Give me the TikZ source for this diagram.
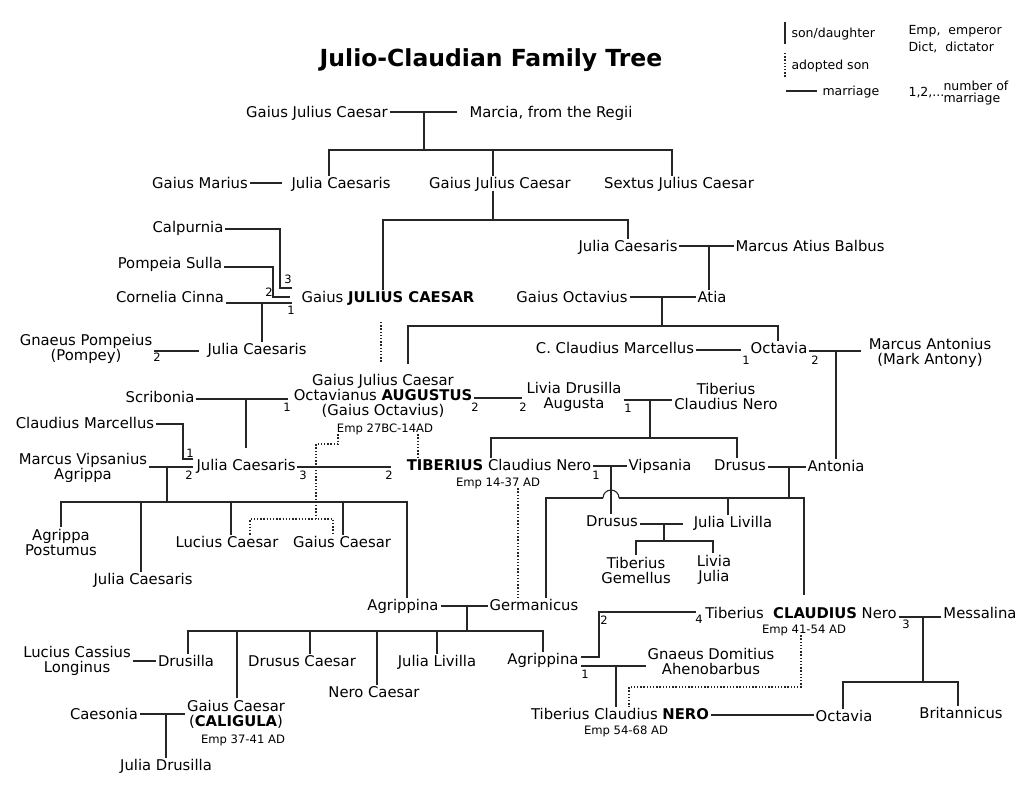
\documentclass[tikz,border=0pt]{standalone}
\usepackage{fontspec}
\setmainfont{DejaVu Sans}
\tikzset{
	pers/.style={inner sep=0pt, outer sep=2pt, text=black, text height=11pt, text depth=0pt, font=\fontsize{14.8}{15}\selectfont},
	pers2/.style={inner sep=0pt, outer sep=2pt, text=black, align=center, font=\fontsize{14.8}{15}\selectfont},
	emp/.style={inner sep=0pt, outer sep=2pt, text=black, text height=8.5pt, text depth=0pt, font=\fontsize{11.6}{13}\selectfont},
	num/.style={inner sep=0pt, text=black, text height=8.4pt, text depth=0pt, font=\fontsize{11.5}{13}\selectfont},
	leg/.style={inner sep=0pt, anchor=west, text=black, text height=9pt, text depth=0pt, font=\fontsize{12.5}{12}\selectfont},
	adopt/.style={line width=1.2pt, dash pattern=on 1.4pt off 1.8pt}
}
\begin{document}
\begin{tikzpicture}[x=1pt, y=-1pt, line width=1.1pt, color=black!85]
			%%%%% START %%%%%
			\useasboundingbox (0,0) rectangle (1024,803);
			
			\node[inner sep=0pt, text=black, text height=17pt, text depth=0pt, font=\bfseries\fontsize{23.5}{26}\selectfont] (title) at (491,58) {Julio-Claudian Family Tree};
			
			%% legend
			\draw (785,22) -- (785,44);
			\node[leg] (lson) at (791,33) {son/daughter};
			\draw[adopt] (785,53) -- (785,78);
			\node[leg] (ladopt) at (791,65) {adopted son};
			\draw (786,91) -- (817,91);
			\node[leg] (lmarr) at (822,91) {marriage};
			\node[leg] (lemp) at (908,30) {Emp,\ \ emperor};
			\node[leg] (ldict) at (908,47) {Dict,\ \ dictator};
			\node[leg] (lnum) at (908,92) {1,2,...};
			\node[leg, text height=, text depth=, align=left] (lnumtxt) at (943,93) {number of\\marriage};
			
			%% persons
			\node[pers] (gjcA) at (317,112) {Gaius Julius Caesar};
			\node[pers] (marcia) at (551,112) {Marcia, from the Regii};
			\node[pers] (marius) at (200,183) {Gaius Marius};
			\node[pers] (juliaA) at (341,183) {Julia Caesaris};
			\node[pers] (gjcB) at (500,183) {Gaius Julius Caesar};
			\node[pers] (sextus) at (679,183) {Sextus Julius Caesar};
			\node[pers] (calpurnia) at (188,227) {Calpurnia};
			\node[pers] (juliaB) at (628,246) {Julia Caesaris};
			\node[pers] (balbus) at (810,246) {Marcus Atius Balbus};
			\node[pers] (pompeia) at (170,263) {Pompeia Sulla};
			\node[pers] (cornelia) at (170,297) {Cornelia Cinna};
			\node[pers] (caesar) at (388,297) {Gaius \textbf{JULIUS CAESAR}};
			\node[pers] (octavius) at (572,297) {Gaius Octavius};
			\node[pers] (atia) at (712,297) {Atia};
			\node[pers2] (pompey) at (86,349) {Gnaeus Pompeius\\(Pompey)};
			\node[pers] (juliaC) at (257,349) {Julia Caesaris};
			\node[pers] (marcellusC) at (615,348) {C. Claudius Marcellus};
			\node[pers] (octavia) at (779,348) {Octavia};
			\node[pers2] (antonius) at (930,353) {Marcus Antonius\\(Mark Antony)};
			\node[pers2] (augustus) at (383,396) {Gaius Julius Caesar\\Octavianus \textbf{AUGUSTUS}\\(Gaius Octavius)};
			\node[emp] (empA) at (385,428) {Emp 27BC-14AD};
			\node[pers] (scribonia) at (160,397) {Scribonia};
			\node[pers2] (livia) at (574,397) {Livia Drusilla\\Augusta};
			\node[pers2] (tiberiusN) at (726,396) {Tiberius\\Claudius Nero};
			\node[pers] (marcellus) at (85,423) {Claudius Marcellus};
			\node[pers2] (agrippa) at (83,468) {Marcus Vipsanius\\Agrippa};
			\node[pers] (juliaD) at (246,465) {Julia Caesaris};
			\node[pers] (tiberius) at (499,465) {\textbf{TIBERIUS} Claudius Nero};
			\node[emp] (empB) at (498,482) {Emp 14-37 AD};
			\node[pers] (vipsania) at (660,465) {Vipsania};
			\node[pers] (drususA) at (740,465) {Drusus};
			\node[pers] (antonia) at (836,466) {Antonia};
			\node[pers2] (postumus) at (61,542) {Agrippa\\Postumus};
			\node[pers] (lucius) at (227,542) {Lucius Caesar};
			\node[pers] (gaius) at (342,542) {Gaius Caesar};
			\node[pers] (juliaE) at (143,579) {Julia Caesaris};
			\node[pers] (drususB) at (612,521) {Drusus};
			\node[pers] (livilla) at (733,522) {Julia Livilla};
			\node[pers2] (gemellus) at (636,570) {Tiberius\\Gemellus};
			\node[pers2] (liviaJ) at (714,570) {Livia\\Julia};
			\node[pers] (agrippinaA) at (403,605) {Agrippina};
			\node[pers] (germanicus) at (534,605) {Germanicus};
			\node[pers] (claudius) at (801,613) {Tiberius\ \ \textbf{CLAUDIUS} Nero};
			\node[emp] (empC) at (804,629) {Emp 41-54 AD};
			\node[pers] (messalina) at (980,613) {Messalina};
			\node[pers2] (cassius) at (77,661) {Lucius Cassius\\Longinus};
			\node[pers] (drusilla) at (186,661) {Drusilla};
			\node[pers] (drususC) at (302,661) {Drusus Caesar};
			\node[pers] (livillaB) at (437,661) {Julia Livilla};
			\node[pers] (agrippinaB) at (543,659) {Agrippina};
			\node[pers2] (domitius) at (711,661) {Gnaeus Domitius\\Ahenobarbus};
			\node[pers] (nero) at (374,692) {Nero Caesar};
			\node[pers2] (caligula) at (236,714) {Gaius Caesar\\(\textbf{CALIGULA})};
			\node[emp] (empD) at (243,739) {Emp 37-41 AD};
			\node[pers] (caesonia) at (104,714) {Caesonia};
			\node[pers] (neroE) at (620,714) {Tiberius Claudius \textbf{NERO}};
			\node[emp] (empE) at (626,730) {Emp 54-68 AD};
			\node[pers] (octaviaB) at (844,716) {Octavia};
			\node[pers] (britannicus) at (961,713) {Britannicus};
			\node[pers] (juliaDr) at (166,765) {Julia Drusilla};
			
			%% number of marriage
			\foreach \n/\x/\y [count=\i] in {3/288/279, 2/269/292, 1/291/310, 2/157/357, 1/287/407, 2/475/407, 2/523/407, 1/628/408, 1/746/360, 2/815/360, 1/190/453, 2/189/475, 3/303/475, 2/389/475, 1/596/475, 2/604/620, 4/699/619, 1/585/674, 3/906/624}
				\node[num] (nr\i) at (\x,\y) {\n};
			
			%% Julii
			\draw (gjcA.east) -- (457,112);
			\draw (424,112) -- (424,150);
			\draw (329,0 |- juliaA.north) |- (672,150) -- (672,0 |- sextus.north);
			\draw (493,150) -- (493,0 |- gjcB.north);
			\draw (marius.east) -- (282,183);
			\draw (493,0 |- gjcB.south) -- (493,220);
			\draw (383,0 |- caesar.north) |- (628,220) -- (628,0 |- juliaB.north);
			\draw (juliaB.east) -- (balbus.west);
			\draw (709,246) -- (709,0 |- atia.north);
			\draw (octavius.east) -- (atia.west);
			\draw (662,297) -- (662,326);
			\draw (408,364) |- (778,326) -- (778,0 |- octavia.north);
			
			%% Caesar
			\draw (calpurnia.east |- 0,229) -| (280,288) -- (292,288);
			\draw (pompeia.east |- 0,267) -| (273,297) -- (290,297);
			\draw (cornelia.east |- 0,303) -- (292,303);
			\draw (262,303) -- (262,0 |- juliaC.north);
			\draw (pompey.east |- 0,351) -- (199,351);
			\draw[adopt] (381,322) -- (381,362);
			
			%% Augustus
			\draw (scribonia.east |- 0,399) -- (288,399);
			\draw (246,399) -- (246,448);
			\draw (augustus.east |- 0,398) -- (522,398);
			\draw (livia.east |- 0,400) -- (tiberiusN.west |- 0,400);
			\draw (650,400) -- (650,438);
			\draw (491,0 |- tiberius.north) |- (737,438) -- (737,0 |- drususA.north);
			\draw[adopt] (418,0 |- empA.south) -- (418,0 |- tiberius.north);
			\draw (marcellusC.east |- 0,350) -- (741,350);
			\draw (octavia.east |- 0,351) -- (861,351);
			\draw (836,351) -- (836,0 |- antonia.north);
			
			%% Julia and Agrippa
			\draw (marcellus.east |- 0,424) -| (183,459) -- (193,459);
			\draw (agrippa.east |- 0,467) -- (193,467);
			\draw (167,467) -- (167,502);
			\draw (61,0 |- postumus.north) |- (407,502) -- (407,0 |- agrippinaA.north);
			\foreach \x/\who in {141/juliaE, 231/lucius, 343/gaius}
				\draw (\x,502) -- (\x,0 |- \who.north);
			\draw (juliaD.east |- 0,467) -- (391,467);
			\draw[adopt] (338,0 |- empA.south) |- (316,444) -- (316,519);
			\draw[adopt] (250,0 |- lucius.north) |- (333,519) -- (333,0 |- gaius.north);
			
			%% Tiberius and Drusus
			\draw (tiberius.east |- 0,466) -- (vipsania.west |- 0,466);
			\draw (611,466) -- (611,0 |- drususB.north);
			\draw (546,0 |- germanicus.north) |- (603,498);
			\draw (603,498) arc (180:0:8pt);
			\draw (619,498) -- (804,498) -- (804,595);
			\draw (drususA.east |- 0,467) -- (antonia.west |- 0,467);
			\draw (789,467) -- (789,498);
			\draw (728,498) -- (728,0 |- livilla.north);
			\draw[adopt] (518,0 |- empB.south) -- (518,0 |- germanicus.north);
			\draw (drususB.east |- 0,524) -- (683,524);
			\draw (664,524) -- (664,541);
			\draw (636,0 |- gemellus.north) |- (713,541) -- (713,0 |- liviaJ.north);
			
			%% Germanicus
			\draw (agrippinaA.east |- 0,606) -- (germanicus.west |- 0,606);
			\draw (467,606) -- (467,631);
			\draw (188,0 |- drusilla.north) |- (543,631) -- (543,0 |- agrippinaB.north);
			\foreach \x/\who in {237/caligula, 310/drususC, 377/nero, 437/livillaB}
				\draw (\x,631) -- (\x,0 |- \who.north);
			\draw (cassius.east |- 0,661) -- (drusilla.west |- 0,661);
			\draw (caesonia.east |- 0,714) -- (caligula.west |- 0,714);
			\draw (166,714) -- (166,0 |- juliaDr.north);
			
			%% Claudius and Nero
			\draw (agrippinaB.east |- 0,657) -| (599,612) -- (696,612);
			\draw (agrippinaB.east |- 0,666) -- (domitius.west |- 0,666);
			\draw (616,666) -- (616,0 |- neroE.north);
			\draw (claudius.east |- 0,617) -- (messalina.west |- 0,617);
			\draw (923,617) -- (923,682);
			\draw (843,0 |- octaviaB.north) |- (958,682) -- (958,0 |- britannicus.north);
			\draw[adopt] (801,0 |- empC.south) |- (629,687) -- (629,0 |- neroE.north);
			\draw (neroE.east |- 0,715) -- (octaviaB.west |- 0,715);
			
			%%%%% END %%%%%
\end{tikzpicture}
\end{document}
